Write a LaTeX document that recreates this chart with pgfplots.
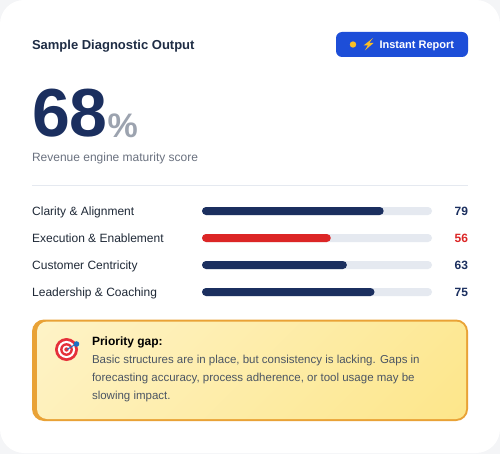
\documentclass[border=0pt]{standalone}
\usepackage{pgfplots}
\pgfplotsset{compat=1.18}
\usepackage{fontspec}
\setmainfont{Liberation Sans}
\definecolor{navy}{HTML}{1B2F5F}
\definecolor{redbar}{HTML}{DC2626}
\definecolor{track}{HTML}{E5E9F0}
\definecolor{btn}{HTML}{1D4ED8}
\definecolor{ink}{HTML}{1F2937}
\definecolor{titleink}{HTML}{1F2D45}
\definecolor{subink}{HTML}{6B7280}
\definecolor{pct}{HTML}{9CA3AF}
\definecolor{amberA}{HTML}{FEF3C7}
\definecolor{amberB}{HTML}{FDE68A}
\definecolor{amberE}{HTML}{E9A236}
\definecolor{boxink}{HTML}{4B5563}
\definecolor{backdrop}{HTML}{F4F5F7}
\definecolor{bolt}{HTML}{FBBF24}
\definecolor{tred}{HTML}{E5303A}
\definecolor{dart}{HTML}{1A6FC4}
\pgfdeclareverticalshading{amb}{100bp}{color(0bp)=(amberA);color(37.5bp)=(amberA);color(62.5bp)=(amberB);color(100bp)=(amberB)}
\newcommand{\fs}[1]{\fontsize{#1pt}{#1pt}\selectfont}
\begin{document}
\begin{tikzpicture}[x=1pt,y=-1pt,every node/.style={inner sep=0pt,outer sep=0pt}]
\clip (0,0) rectangle (500,454);
\fill[backdrop] (0,0) rectangle (500,454);
\fill[white,rounded corners=24pt] (0,0) rectangle (500,453);
% header
\node[anchor=base west,text=titleink] at (32,49.3) {\fs{13}\bfseries Sample Diagnostic Output};
\fill[btn,rounded corners=6pt] (336,32) rectangle (468,57);
\fill[bolt] (353,44.5) circle (3.2);
\fill[bolt] (373,38) -- (363.5,45.5) -- (367.8,45.5) -- (364.8,50.5) -- (373.5,43) -- (369.2,43) -- cycle;
\node[anchor=base west,text=white] at (379.5,48.4) {\fs{11}\bfseries Instant Report};
% big number
\node[anchor=base west,text=navy] at (32,137) {\fs{68}\bfseries 68};
\node[anchor=base west,text=pct] at (107.5,137.5) {\fs{34}\bfseries\%};
\node[anchor=base west,text=subink] at (32,162) {\fs{12}Revenue engine maturity score};
\draw[track,line width=1pt] (32,185.5) -- (468,185.5);
% bars
\begin{axis}[
  at={(202pt,-305.5pt)},anchor=south west,
  scale only axis,width=230pt,height=108pt,
  xmin=0,xmax=100,ymin=-0.5,ymax=3.5,y dir=reverse,
  clip=false,
  axis line style={draw=none},
  tick style={draw=none},
  xtick=\empty,
  ytick={0,1,2,3},
  yticklabels={Clarity \& Alignment,Execution \& Enablement,Customer Centricity,Leadership \& Coaching},
  yticklabel style={anchor=base west,xshift=-165.5pt,yshift=-4.2pt,inner sep=0pt,text=ink,font=\fs{12}},
  xbar,bar shift=0pt,bar width=8pt,
]
\addplot[fill=track,draw=none,rounded corners=4pt] coordinates {(100,0) (100,1) (100,2) (100,3)};
\addplot[fill=navy,draw=none,rounded corners=4pt] coordinates {(79,0) (63,2) (75,3)};
\addplot[fill=redbar,draw=none,rounded corners=4pt] coordinates {(56,1)};
\node[anchor=base east,text=navy,font=\fs{12}\bfseries] at ([yshift=-4.2pt]axis cs:115.65,0) {79};
\node[anchor=base east,text=redbar,font=\fs{12}\bfseries] at ([yshift=-4.2pt]axis cs:115.65,1) {56};
\node[anchor=base east,text=navy,font=\fs{12}\bfseries] at ([yshift=-4.2pt]axis cs:115.65,2) {63};
\node[anchor=base east,text=navy,font=\fs{12}\bfseries] at ([yshift=-4.2pt]axis cs:115.65,3) {75};
\end{axis}
% callout
\fill[amberE,rounded corners=12pt] (32,319.5) rectangle (468,421);
\begin{scope}
\clip[rounded corners=10pt] (37,321.5) rectangle (466,419);
\shade[shading=amb,shading angle=-135] (-120.25,-1.75) rectangle (623.75,742.25);
\end{scope}
\fill[tred] (66.5,349.5) circle (11.5);
\fill[white] (66.5,349.5) circle (8.6);
\fill[tred] (66.5,349.5) circle (6.4);
\fill[white] (66.5,349.5) circle (4);
\fill[tred] (66.5,349.5) circle (2.2);
\draw[dart,line width=1pt] (67,349.5) -- (76,344);
\fill[dart] (76.5,344) circle (2.8);
\node[anchor=base west,text=black] at (92,345.5) {\fs{12}\bfseries Priority gap:};
\node[anchor=base west,text=boxink] at (92,363.5) {\fs{11.5}Basic structures are in place, but consistency is lacking. Gaps in};
\node[anchor=base west,text=boxink] at (92,381.5) {\fs{11.5}forecasting accuracy, process adherence, or tool usage may be};
\node[anchor=base west,text=boxink] at (92,399.5) {\fs{11.5}slowing impact.};
\end{tikzpicture}
\end{document}
